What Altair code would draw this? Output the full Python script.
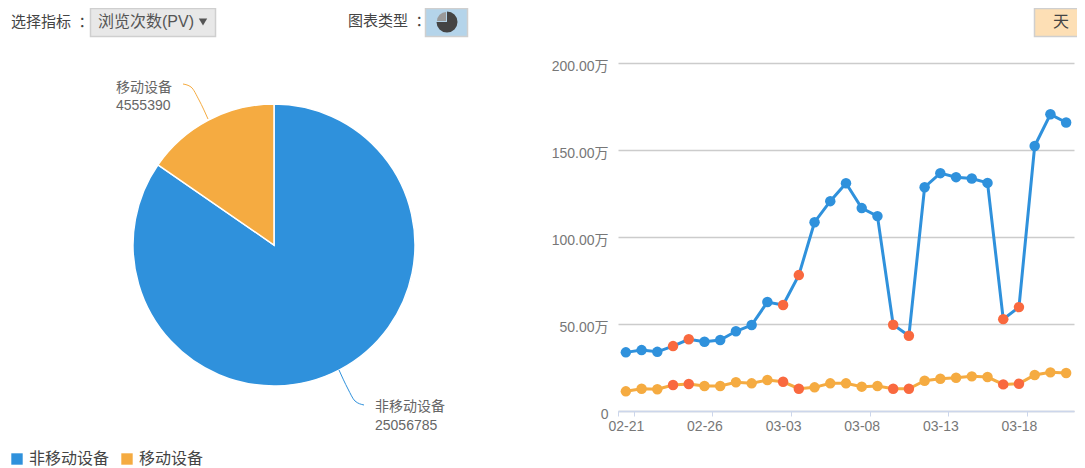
import altair as alt
import pandas as pd

FONT = "Liberation Sans, Noto Sans CJK SC"

# ---- pie data
devices = ["非移动设备", "移动设备"]
visits = [25056785, 4555390]
device_colors = ["#2f91dc", "#f5ab41"]

# ---- line data (values in 万)
dates = ["02-21", "02-22", "02-23", "02-24", "02-25", "02-26", "02-27", "02-28",
         "03-01", "03-02", "03-03", "03-04", "03-05", "03-06", "03-07", "03-08",
         "03-09", "03-10", "03-11", "03-12", "03-13", "03-14", "03-15", "03-16",
         "03-17", "03-18", "03-19", "03-20", "03-21"]
other_pv = [33.7, 35.0, 34.0, 37.3, 41.2, 39.8, 40.8, 45.8, 49.4, 62.6, 60.9, 78.1,
            108.5, 120.6, 130.9, 116.6, 112.0, 49.6, 43.2, 128.6, 136.7, 134.4,
            133.6, 131.1, 52.8, 59.7, 152.3, 170.5, 165.8]
mobile_pv = [11.3, 12.8, 12.5, 14.9, 15.5, 14.4, 14.4, 16.5, 15.9, 17.8, 16.8, 12.8,
             13.6, 15.9, 15.9, 14.0, 14.4, 12.8, 12.8, 17.4, 18.5, 19.1, 19.9, 19.5,
             15.3, 15.7, 20.7, 22.2, 21.8]
highlight_days = ["02-24", "02-25", "03-03", "03-04", "03-10", "03-11", "03-17", "03-18"]
tick_dates = ["02-21", "02-26", "03-03", "03-08", "03-13", "03-18"]
y_ticks = [0, 50, 100, 150, 200]

HIGHLIGHT = "#f9693f"

pie_df = pd.DataFrame({"device": devices, "visits": visits, "order": [0, 1]})
rows = []
for name, vals in zip(devices, [other_pv, mobile_pv]):
    for d, v in zip(dates, vals):
        rows.append({"date": d, "value": v, "series": name,
                     "dot": "周末" if d in highlight_days else name})
line_df = pd.DataFrame(rows)

one = alt.Data(values=[{"a": 1}])


def label(text, x, y, size=14, color="#666666", align="left"):
    return alt.Chart(one).mark_text(
        text=text, font=FONT, fontSize=size, color=color, align=align, baseline="middle"
    ).encode(x=alt.value(x), y=alt.value(y))


def box(x, x2, y, y2, fill):
    return alt.Chart(one).mark_rect(fill=fill, stroke="#cfcfcf", strokeWidth=1.5).encode(
        x=alt.value(x), x2=alt.value(x2), y=alt.value(y), y2=alt.value(y2))


def leader(xs, ys, color):
    df = pd.DataFrame({"x": xs, "y": ys, "i": range(len(xs))})
    return alt.Chart(df).mark_line(color=color, strokeWidth=1, interpolate="monotone").encode(
        x=alt.X("x:Q", scale=None, axis=None),
        y=alt.Y("y:Q", scale=None, axis=None),
        order="i:Q")


pie = alt.Chart(pie_df).mark_arc(
    outerRadius=141, stroke="#ffffff", strokeWidth=1.5
).encode(
    theta=alt.Theta("visits:Q", stack=True),
    order=alt.Order("order:Q"),
    color=alt.Color(
        "device:N",
        scale=alt.Scale(domain=devices, range=device_colors),
        legend=alt.Legend(
            orient="none", legendX=1, legendY=443, direction="horizontal", title=None,
            symbolType="square", symbolSize=130, symbolStrokeWidth=0, labelFont=FONT,
            labelFontSize=16, labelColor="#444444", labelOffset=4, columnPadding=9,
        ),
    ),
    x=alt.value(266),
    y=alt.value(237),
)

icon_dark = alt.Chart(one).mark_arc(
    outerRadius=10.5, theta=0, theta2=4.712, color="#444444"
).encode(x=alt.value(439), y=alt.value(14))
icon_light = alt.Chart(one).mark_arc(
    outerRadius=9, theta=4.712, theta2=6.283, color="#9a9a9a"
).encode(x=alt.value(438), y=alt.value(13))
caret = alt.Chart(one).mark_point(
    shape="triangle-down", filled=True, size=70, color="#555555", opacity=1
).encode(x=alt.value(195), y=alt.value(14))

left = alt.layer(
    box(82.5, 207.5, 0.5, 28.5, "#e8e8e8"),
    box(417.5, 459.5, 0.5, 28.5, "#b4d4ea"),
    label("选择指标\u2002：", 3, 14, 15, "#444444"),
    label("浏览次数(PV)", 90, 14, 16, "#555555"),
    caret,
    label("图表类型\u2002：", 340, 13, 15, "#444444"),
    icon_dark,
    icon_light,
    pie,
    leader([175, 183, 191, 200], [76, 79, 92, 111], "#f5ab41"),
    leader([331, 340, 347, 356], [362, 381, 393, 397], "#2f91dc"),
    label("移动设备", 108, 80),
    label("4555390", 108, 98),
    label("非移动设备", 367, 399),
    label("25056785", 367, 418),
).properties(width=610, height=458)

top = alt.layer(
    box(416.5, 467, 0.5, 28.5, "#fddfb5"),
    label("天", 443, 14, 16, "#444444", "center"),
).properties(width=456, height=55)

x = alt.X(
    "date:N",
    sort=dates,
    title=None,
    scale=alt.Scale(domain=dates, paddingInner=0, paddingOuter=0),
    axis=alt.Axis(
        values=tick_dates, labelAngle=0, tickBand="extent", tickSize=5, labelPadding=3,
        domainColor="#ccd6eb", tickColor="#ccd6eb", domainWidth=1.5, labelFont=FONT,
        labelFontSize=14, labelColor="#777777", grid=False, zindex=2, labelFlush=False,
    ),
)
y = alt.Y(
    "value:Q",
    title=None,
    scale=alt.Scale(domain=[0, 200], nice=False),
    axis=alt.Axis(
        values=y_ticks, ticks=False, domain=False, grid=True, gridColor="#cccccc",
        gridWidth=1.5, labelFont=FONT, labelFontSize=14, labelColor="#777777",
        labelPadding=10, labelOffset=3,
        labelExpr="datum.value === 0 ? '0' : format(datum.value, '.2f') + '万'",
    ),
)
lines = alt.Chart(line_df).mark_line(strokeWidth=3).encode(
    x=x, y=y, detail="series:N",
    color=alt.Color("series:N", scale=alt.Scale(domain=devices, range=device_colors), legend=None),
)
dots = alt.Chart(line_df).mark_circle(size=110, opacity=1).encode(
    x=x, y=y,
    color=alt.Color("dot:N",
                    scale=alt.Scale(domain=devices + ["周末"], range=device_colors + [HIGHLIGHT]),
                    legend=None),
)
main = alt.layer(lines, dots).resolve_scale(color="independent").properties(width=456, height=348)

right = alt.vconcat(top, main, spacing=0, bounds="flush")

chart = alt.hconcat(left, right, spacing=0, bounds="flush").resolve_scale(
    color="independent"
).properties(
    padding={"left": 0, "top": -1, "right": -9, "bottom": 0}, background="#ffffff"
).configure_view(stroke=None)

chart.save("out.html", embed_options={"renderer": "svg", "actions": False})
